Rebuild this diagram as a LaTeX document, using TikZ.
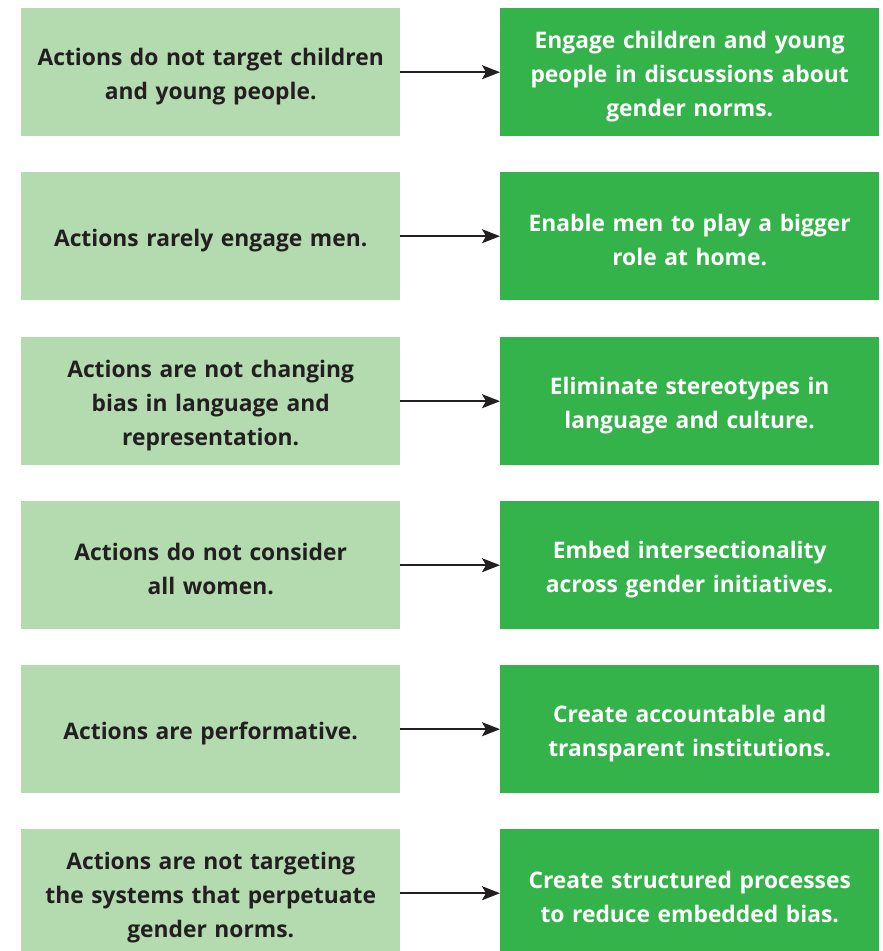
\documentclass[tikz,border=0pt]{standalone}
\usepackage{fontspec}
\setmainfont{Open Sans}
\usetikzlibrary{arrows.meta}
\definecolor{lightg}{HTML}{B3DBAF}
\definecolor{darkg}{HTML}{33B34A}
\definecolor{txt}{HTML}{231F20}
\begin{document}
\begin{tikzpicture}[x=1pt,y=-1pt,
  box/.style={minimum width=379pt,minimum height=128pt,inner sep=0pt,anchor=north west},
  leftbox/.style={box,fill=lightg},
  rightbox/.style={box,fill=darkg},
  lab/.style={inner sep=0pt,align=center,font=\fontsize{22.8}{34}\selectfont\bfseries},
  ltext/.style={lab,text=txt,text width=370pt},
  rtext/.style={lab,text=white,text width=370pt},
  conn/.style={draw=txt,line width=2pt,-{Stealth[length=18pt,width=14pt,inset=4pt]}}]
\useasboundingbox (0,0) rectangle (883,951);
\begin{scope}
\clip (0,0) rectangle (883,951);
\node[leftbox] (l1) at (21,8) {};
\node[rightbox] (r1) at (500,8) {};
\node[leftbox] (l2) at (21,172) {};
\node[rightbox] (r2) at (500,172) {};
\node[leftbox] (l3) at (21,337) {};
\node[rightbox] (r3) at (500,337) {};
\node[leftbox] (l4) at (21,501) {};
\node[rightbox] (r4) at (500,501) {};
\node[leftbox] (l5) at (21,665) {};
\node[rightbox] (r5) at (500,665) {};
\node[leftbox] (l6) at (21,829) {};
\node[rightbox] (r6) at (500,829) {};
\node[ltext] (t1) at ([yshift=-4pt]l1.center) {Actions do not target children\\and young people.};
\node[rtext] (u1) at ([yshift=-4pt]r1.center) {Engage children and young\\people in discussions about\\gender norms.};
\node[ltext] (t2) at ([yshift=-4pt]l2.center) {Actions rarely engage men.};
\node[rtext] (u2) at ([yshift=-4pt]r2.center) {Enable men to play a bigger\\role at home.};
\node[ltext] (t3) at ([yshift=-4pt]l3.center) {Actions are not changing\\bias in language and\\representation.};
\node[rtext] (u3) at ([yshift=-4pt]r3.center) {Eliminate stereotypes in\\language and culture.};
\node[ltext] (t4) at ([yshift=-4pt]l4.center) {Actions do not consider\\all women.};
\node[rtext] (u4) at ([yshift=-4pt]r4.center) {Embed intersectionality\\across gender initiatives.};
\node[ltext] (t5) at ([yshift=-4pt]l5.center) {Actions are performative.};
\node[rtext] (u5) at ([yshift=-4pt]r5.center) {Create accountable and\\transparent institutions.};
\node[ltext] (t6) at ([yshift=-4pt]l6.center) {Actions are not targeting\\the systems that perpetuate\\gender norms.};
\node[rtext] (u6) at ([yshift=-4pt]r6.center) {Create structured processes\\to reduce embedded bias.};
\foreach \i in {1,...,6} {\draw[conn] (l\i.east) -- (r\i.west);}
\end{scope}
\end{tikzpicture}
\end{document}
